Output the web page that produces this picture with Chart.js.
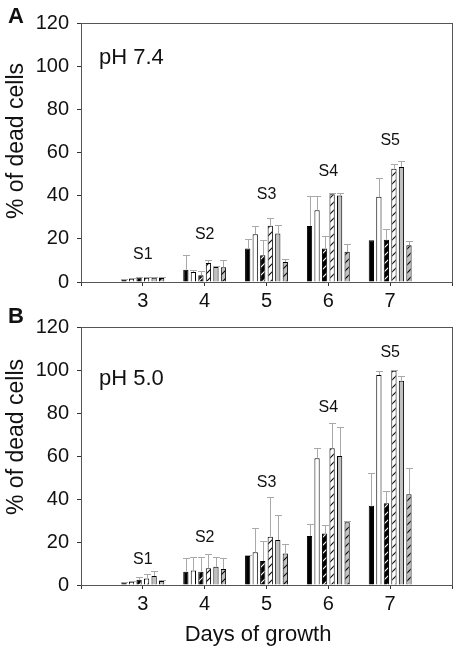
<!DOCTYPE html>
<html>
<head>
<meta charset="utf-8">
<script src="https://cdn.jsdelivr.net/npm/chart.js@4"></script>
<style>
  body { margin: 0; background: #fff; }
  #wrap { position: relative; width: 458px; height: 653px; font-family: "Liberation Sans", Arial, sans-serif; color: #111; }
  canvas { position: absolute; left: 0; }
  .txt { position: absolute; line-height: 1; white-space: nowrap; }
  .letter { font-size: 22px; font-weight: bold; }
  .ph { font-size: 22px; }
  .ytitle { font-size: 23px; transform: translate(-50%, -50%) rotate(-90deg); }
  .xtitle { font-size: 22px; transform: translateX(-50%); }
</style>
</head>
<body>
<div id="wrap">
  <canvas id="chartA" width="458" height="330" style="top:0"></canvas>
  <canvas id="chartB" width="458" height="353" style="top:300px"></canvas>
  <div class="txt letter" style="left:8px;top:5px">A</div>
  <div class="txt letter" style="left:8px;top:305px">B</div>
  <div class="txt ph" style="left:99px;top:46px">pH 7.4</div>
  <div class="txt ph" style="left:99px;top:367px">pH 5.0</div>
  <div class="txt ytitle" style="left:15px;top:141px">% of dead cells</div>
  <div class="txt ytitle" style="left:15px;top:437px">% of dead cells</div>
  <div class="txt xtitle" style="left:258px;top:623px">Days of growth</div>
</div>
<script>
// days on the x axis (2 and 8 are empty padding slots)
const days = ['3', '4', '5', '6', '7'];
const groupLabels = ['S1', 'S2', 'S3', 'S4', 'S5'];
const yTicks = [0, 20, 40, 60, 80, 100, 120];

// pH 7.4 - mean % of dead cells and SD (upper error)
const a_black = [1.0, 5.7, 15.5, 26.0, 19.3];
const a_black_err = [0.2, 6.7, 4.5, 13.9, 0];
const a_white = [1.5, 4.6, 22.1, 33.2, 39.5];
const a_white_err = [0.3, 0.8, 4.0, 6.8, 8.5];
const a_blackHatch = [2.0, 3.1, 12.4, 15.5, 19.6];
const a_blackHatch_err = [0.5, 1.9, 6.9, 5.8, 5.1];
const a_whiteHatch = [2.0, 8.8, 26.1, 40.7, 52.5];
const a_whiteHatch_err = [0.3, 1.6, 3.7, 0.7, 2.0];
const a_gray = [2.0, 7.0, 22.5, 40.1, 53.3];
const a_gray_err = [0.3, 0.5, 3.8, 1.3, 2.7];
const a_grayHatch = [1.8, 6.8, 9.3, 14.0, 17.0];
const a_grayHatch_err = [0.4, 3.2, 1.4, 3.8, 2.0];
const a_labelY = [12.5, 21.8, 40.3, 51, 65.3];

// pH 5.0
const b_black = [1.2, 6.2, 13.5, 22.8, 36.9];
const b_black_err = [0.3, 6.5, 0.4, 5.4, 15.1];
const b_white = [1.5, 6.7, 15.2, 58.9, 97.7];
const b_white_err = [0.5, 6.5, 11.5, 4.7, 2.0];
const b_blackHatch = [2.5, 6.2, 11.2, 24.0, 38.0];
const b_blackHatch_err = [1.0, 6.8, 9.4, 3.9, 5.9];
const b_whiteHatch = [3.0, 7.8, 22.5, 63.6, 99.7];
const b_whiteHatch_err = [2.0, 6.6, 18.5, 11.9, 0.3];
const b_gray = [4.2, 8.5, 20.9, 60.0, 95.0];
const b_gray_err = [2.5, 4.7, 11.7, 13.6, 2.2];
const b_grayHatch = [1.9, 7.4, 14.7, 29.2, 42.2];
const b_grayHatch_err = [0.4, 5.0, 4.2, 0.7, 12.1];
const b_labelY = [11.6, 21.9, 47.4, 82.3, 108];

const FONT = '"Liberation Sans", Arial, sans-serif';
const GRAY = '#c0c0c0';

function hatch(bg, fg) {
    const c = document.createElement('canvas');
    c.width = 8;
    c.height = 8;
    const g = c.getContext('2d');
    g.fillStyle = bg;
    g.fillRect(0, 0, 8, 8);
    g.strokeStyle = fg;
    g.lineWidth = 1.1;
    g.beginPath();
    g.moveTo(-1, 9); g.lineTo(9, -1);
    g.moveTo(-1, 1); g.lineTo(1, -1);
    g.moveTo(7, 9); g.lineTo(9, 7);
    g.stroke();
    return g.createPattern(c, 'repeat');
}

const pad = arr => [null, ...arr, null];
const xLabels = ['2', ...days, '8'];

function makeDatasets(series) {
    const fills = ['#000', '#fff', hatch('#000', '#fff'), hatch('#fff', '#000'), GRAY, hatch(GRAY, '#000')];
    return series.map((s, i) => ({
        data: pad(s[0]),
        errors: pad(s[1]),
        backgroundColor: fills[i],
        borderColor: '#000',
        borderWidth: 1,
        categoryPercentage: 0.73,
        barPercentage: 0.7
    }));
}

const errorBars = {
    id: 'errorBars',
    afterDatasetsDraw(chart) {
        const ctx = chart.ctx;
        const y = chart.scales.y;
        ctx.save();
        ctx.strokeStyle = '#a9a9a9';
        ctx.lineWidth = 1;
        chart.data.datasets.forEach((ds, di) => {
            const meta = chart.getDatasetMeta(di);
            meta.data.forEach((bar, i) => {
                const v = ds.data[i], e = ds.errors[i];
                if (v == null || !e) return;
                const top = Math.round(y.getPixelForValue(v + e)) + 0.5;
                const x = Math.round(bar.x) + 0.5;
                ctx.beginPath();
                ctx.moveTo(x, bar.y);
                ctx.lineTo(x, top);
                ctx.moveTo(x - 3.5, top);
                ctx.lineTo(x + 3.5, top);
                ctx.stroke();
            });
        });
        ctx.restore();
    }
};

const frame = {
    id: 'frame',
    afterDraw(chart) {
        const a = chart.chartArea;
        const ctx = chart.ctx;
        ctx.save();
        ctx.strokeStyle = '#555';
        ctx.lineWidth = 1;
        ctx.strokeRect(Math.round(a.left) + 0.5, Math.round(a.top) + 0.5, Math.round(a.right - a.left), Math.round(a.bottom - a.top));
        ctx.restore();
    }
};

const groupText = {
    id: 'groupText',
    afterDatasetsDraw(chart, args, opts) {
        const ctx = chart.ctx;
        ctx.save();
        ctx.fillStyle = '#111';
        ctx.font = '16px ' + FONT;
        ctx.textAlign = 'center';
        ctx.textBaseline = 'middle';
        groupLabels.forEach((t, i) => {
            ctx.fillText(t, chart.scales.x.getPixelForValue(i + 1), chart.scales.y.getPixelForValue(opts.ys[i]));
        });
        ctx.restore();
    }
};

function makeChart(id, series, labelYs, topPad, areaBottom) {
    const canvas = document.getElementById(id);
    return new Chart(canvas, {
        type: 'bar',
        data: {
            labels: xLabels,
            datasets: makeDatasets(series)
        },
        options: {
            responsive: false,
            animation: false,
            layout: {
                padding: { top: topPad, right: 6, left: 0, bottom: 0 }
            },
            plugins: {
                legend: { display: false },
                tooltip: { enabled: false },
                groupText: { ys: labelYs }
            },
            scales: {
                x: {
                    offset: false,
                    afterFit(scale) { scale.height = canvas.height - areaBottom; },
                    grid: { display: true, offset: false, drawOnChartArea: false, tickLength: 4, color: '#333' },
                    border: { color: '#555' },
                    ticks: {
                        padding: 3,
                        color: '#111',
                        font: { family: FONT, size: 20 },
                        maxRotation: 0,
                        autoSkip: false,
                        callback: (v, i) => (i === 0 || i === xLabels.length - 1) ? '' : xLabels[i]
                    }
                },
                y: {
                    min: 0,
                    max: 120,
                    afterFit(scale) { scale.width = 81; },
                    afterBuildTicks(scale) { scale.ticks = yTicks.map(v => ({ value: v })); },
                    grid: { display: true, drawOnChartArea: false, tickLength: 4, color: '#333' },
                    border: { color: '#555' },
                    ticks: {
                        padding: 8,
                        color: '#111',
                        font: { family: FONT, size: 20 }
                    }
                }
            }
        },
        plugins: [errorBars, frame, groupText]
    });
}

makeChart('chartA', [
    [a_black, a_black_err], [a_white, a_white_err], [a_blackHatch, a_blackHatch_err],
    [a_whiteHatch, a_whiteHatch_err], [a_gray, a_gray_err], [a_grayHatch, a_grayHatch_err]
], a_labelY, 23, 282);

makeChart('chartB', [
    [b_black, b_black_err], [b_white, b_white_err], [b_blackHatch, b_blackHatch_err],
    [b_whiteHatch, b_whiteHatch_err], [b_gray, b_gray_err], [b_grayHatch, b_grayHatch_err]
], b_labelY, 27, 285);
</script>
</body>
</html>
